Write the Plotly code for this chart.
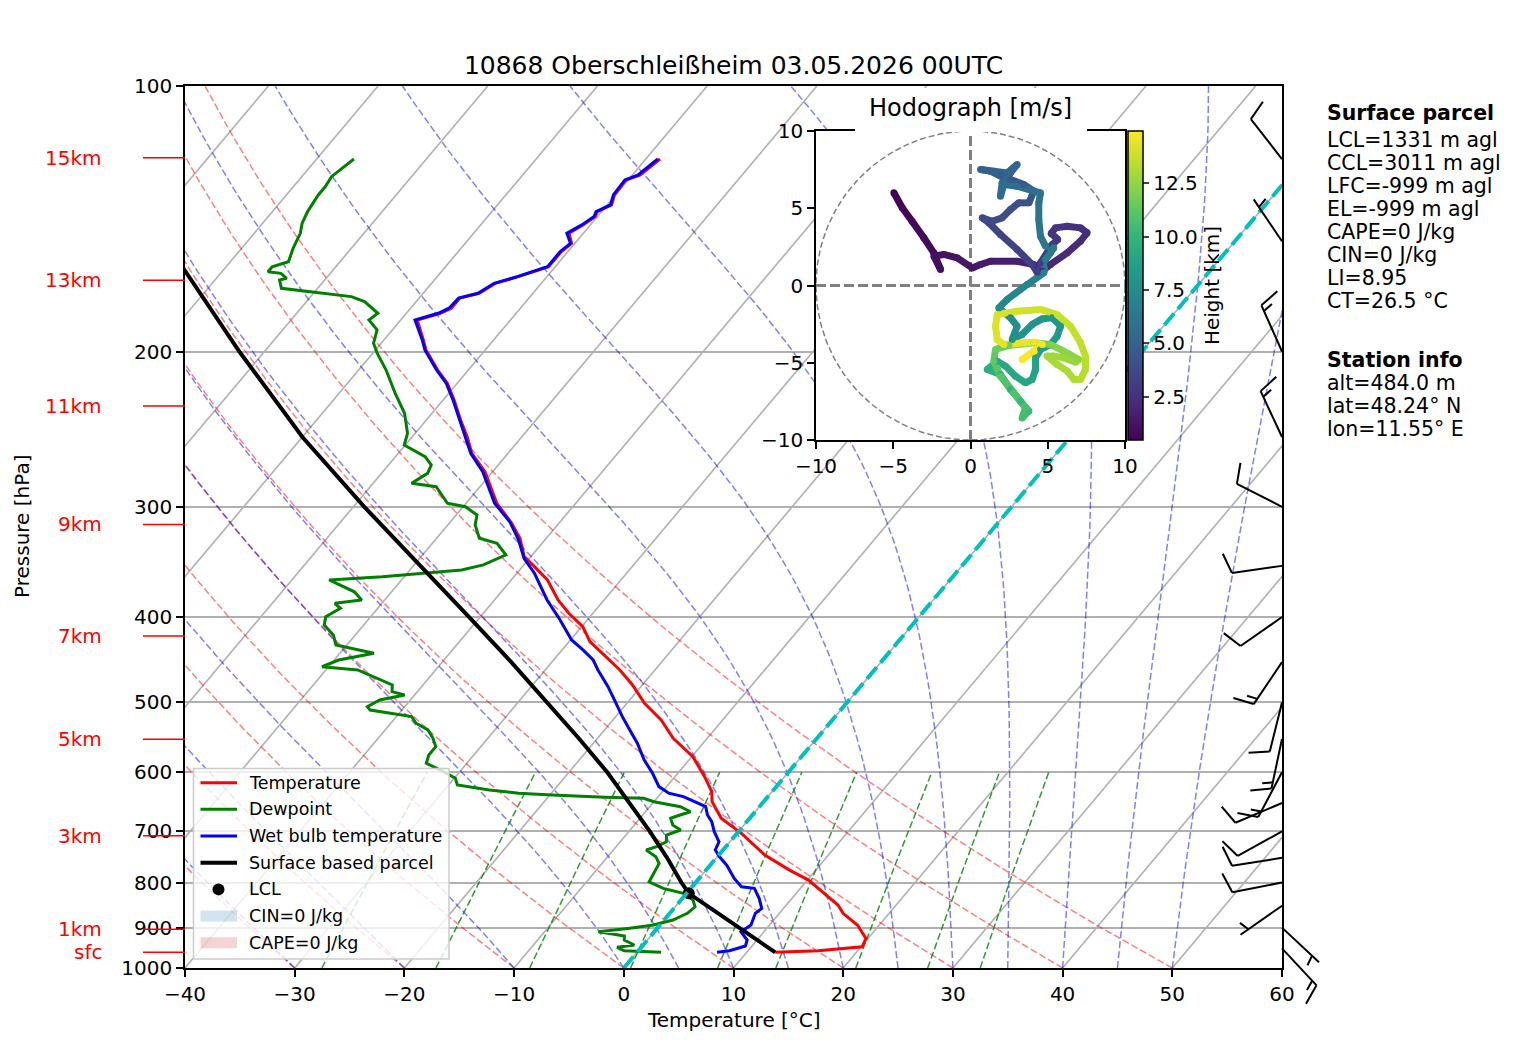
import numpy as np
import plotly.graph_objects as go
from plotly.colors import sample_colorscale

# ---- sounding readings: pressure [hPa] / temperature [degC] ----
temp_p = [959.9, 955.8, 946.0, 925.5, 893.9, 867.0, 848.5, 830.3, 808.9, 794.9,
          774.4, 744.6, 703.6, 676.5, 647.8, 631.0, 606.8, 576.0, 549.0, 523.4,
          501.0, 477.6, 459.3, 447.5, 441.7, 426.6, 410.2, 396.1, 382.6, 363.1,
          349.1, 341.7, 325.7, 313.2, 297.2, 282.1, 273.7, 260.9, 249.8, 240.2,
          227.0, 217.3, 209.9, 199.2, 194.1, 184.2, 181.0, 178.6, 174.0, 171.8,
          167.4, 164.5, 160.3, 154.1, 150.8, 146.9, 143.8, 140.6, 138.8, 136.4,
          132.9, 127.8, 126.2, 121.0]
temp_t = [12.6, 16.4, 20.1, 19.8, 18.0, 15.8, 14.7, 13.2, 11.3, 10.1,
          7.6, 4.2, 0.4, -2.6, -4.7, -5.5, -7.3, -9.9, -13.1, -15.6,
          -18.4, -20.9, -23.2, -24.9, -25.8, -28.1, -29.9, -32.2, -34.2, -36.7,
          -39.2, -40.6, -42.4, -44.3, -47.2, -49.4, -50.7, -53.3, -55.0, -56.7,
          -59.0, -60.9, -62.8, -65.4, -66.4, -68.5, -66.9, -66.3, -66.3, -64.9,
          -64.2, -62.6, -60.6, -60.6, -60.3, -61.3, -60.7, -60.2, -60.4, -59.6,
          -60.1, -60.2, -59.3, -58.7]

wb_p = [959.9, 955.8, 944.2, 929.5, 909.7, 893.9, 867.0, 855.8, 833.8, 812.3,
        808.9, 791.4, 764.5, 748.1, 734.9, 719.2, 700.6, 682.5, 670.7, 656.3,
        639.3, 633.6, 622.8, 601.5, 580.8, 556.0, 537.1, 518.8, 496.7, 479.8,
        459.3, 447.5, 435.9, 424.7, 401.4, 382.6, 356.8, 343.1, 327.1, 311.9,
        297.2, 282.1, 273.7, 260.9, 249.8, 240.2, 227.0, 217.3, 209.9, 199.2,
        194.1, 184.2, 181.0, 178.6, 174.0, 171.8, 167.4, 164.5, 160.3, 154.1,
        150.8, 146.9, 143.8, 140.6, 138.8, 136.4, 132.9, 127.8, 126.2, 121.0]
wb_t = [7.3, 8.3, 9.4, 9.1, 7.9, 8.3, 7.8, 8.0, 7.0, 5.8,
        4.5, 3.2, 1.5, 0.2, -0.7, -1.0, -2.2, -3.2, -4.1, -4.9,
        -7.7, -9.3, -10.7, -12.3, -14.1, -16.0, -17.7, -19.4, -21.4, -23.0,
        -25.2, -26.4, -28.1, -29.9, -32.7, -35.2, -38.4, -40.5, -42.4, -44.6,
        -47.4, -49.6, -50.9, -53.4, -55.2, -56.8, -59.1, -61.0, -62.9, -65.5,
        -66.5, -68.7, -67.1, -66.5, -66.4, -65.0, -64.3, -62.7, -60.7, -60.7,
        -60.4, -61.5, -60.8, -60.3, -60.5, -59.7, -60.2, -60.3, -59.5, -58.9]

dew_p = [959.9, 955.8, 947.4, 941.8, 929.5, 919.9, 913.4, 909.7, 901.3, 893.9,
         882.3, 867.0, 852.3, 837.5, 822.9, 812.3, 798.4, 781.1, 761.0, 748.1,
         734.9, 728.6, 719.2, 706.6, 697.5, 688.4, 676.5, 670.7, 665.0, 656.3,
         647.8, 642.1, 640.4, 636.6, 633.6, 628.3, 620.1, 609.3, 598.9, 585.9,
         573.5, 561.2, 549.0, 537.1, 527.8, 518.8, 509.9, 505.5, 496.7, 490.3,
         486.1, 477.6, 459.3, 455.4, 447.5, 439.7, 430.3, 419.2, 408.4, 399.6,
         391.0, 385.9, 382.6, 374.5, 369.5, 363.1, 360.0, 353.7, 349.1, 340.2,
         330.0, 325.7, 314.6, 306.5, 299.9, 297.2, 284.6, 282.1, 274.9, 269.0,
         263.2, 255.3, 247.6, 235.0, 223.0, 209.9, 200.9, 195.7, 189.0, 184.2,
         181.0, 175.6, 173.3, 171.1, 169.6, 166.0, 165.2, 163.1, 162.4, 160.3,
         158.2, 152.8, 146.9, 143.1, 138.8, 132.9, 130.0, 126.7, 124.5, 121.0]
dew_t = [2.2, -1.3, -2.2, -0.8, -2.1, -2.4, -4.1, -5.1, -2.5, -0.6,
         0.8, 1.6, 1.8, 1.1, -0.3, -2.5, -4.3, -4.5, -4.8, -5.6,
         -7.0, -6.3, -5.8, -6.3, -5.4, -6.5, -7.2, -6.6, -5.9, -7.2,
         -10.0, -11.2, -14.8, -19.8, -23.0, -25.9, -29.2, -29.9, -31.5, -33.7,
         -34.1, -34.1, -35.0, -36.1, -37.7, -38.6, -42.9, -43.4, -42.8, -40.9,
         -42.3, -42.8, -47.1, -50.6, -49.6, -46.9, -51.0, -52.0, -53.6, -54.1,
         -53.4, -54.3, -52.1, -53.4, -54.8, -56.6, -52.0, -45.3, -43.7, -42.4,
         -44.1, -46.1, -47.5, -48.1, -49.8, -51.7, -54.0, -56.5, -55.8, -56.1,
         -57.3, -60.1, -60.7, -62.5, -64.9, -67.5, -69.6, -70.7, -71.4, -72.9,
         -72.6, -74.7, -76.3, -80.6, -83.3, -84.1, -83.6, -84.5, -85.8, -85.8,
         -84.7, -85.3, -85.8, -86.4, -86.8, -87.1, -87.1, -87.3, -87.0, -86.6]

parcel_p = [959.9, 900, 850, 822.9, 800, 750, 700, 650, 600, 550, 500, 450,
            400, 350, 300, 250, 200, 150]
parcel_t = [12.6, 7.35, 2.8, 0.2, -1.3, -4.5, -8.1, -12.1, -16.5, -21.6, -27.3, -33.7,
            -41.0, -49.4, -59.0, -70.0, -82.3, -97.5]
lcl_p, lcl_t = 822.9, 0.2

# wind barbs at the right edge
barb_p = [121, 150, 200, 250, 300, 350, 400, 450, 500, 550, 600, 650, 700, 750, 800, 850, 900, 950]
barb_dir = [322, 326, 336, 335, 297, 262, 235, 214, 194, 192, 208, 247, 241, 261, 259, 235, 133, 137]
barb_kt = [10, 5, 15, 15, 10, 10, 10, 15, 10, 15, 15, 10, 10, 10, 10, 5, 5, 15]

# hodograph (m/s) and height (km)
hodo_u = [-4.96, -4.42, -3.78, -3.02, -2.37, -1.94, -2.37, -1.73, -0.86, 0.11, 0.65, 1.29, 3.02, 4.10, 4.64,
          5.18, 6.26, 7.12, 7.55, 7.12, 6.26, 5.50, 5.22, 5.65, 5.29, 4.53, 4.32,
          3.99, 3.02, 1.94, 1.19, 0.76, 1.40, 2.05, 2.59, 3.13, 3.78,
          4.10, 3.45, 2.59, 1.94, 1.29, 0.65, 1.51, 2.37, 3.02, 2.59, 2.05, 1.94, 2.16, 3.02, 4.10, 4.53,
          4.42, 4.42, 4.53, 4.85, 5.39, 5.18, 4.85, 4.75, 3.67, 2.37,
          1.83, 2.59, 3.02, 2.70, 3.34, 3.99, 4.64, 5.29, 5.83, 5.61, 5.18, 4.53, 4.21, 4.21, 3.99,
          3.56, 2.91, 2.27, 1.73, 1.08, 1.94, 2.59, 3.24, 3.78, 3.34, 3.56, 2.80, 1.94, 1.51, 1.62,
          2.48, 4.10, 5.18, 6.04, 7.01, 6.80, 6.04, 5.39, 4.96, 5.61, 6.26, 6.69, 7.12, 7.44,
          7.44, 7.12, 6.47, 5.61, 4.53, 3.02, 1.73, 1.62, 1.73, 2.16, 4.10, 4.64, 4.10, 3.34]
hodo_v = [6.00, 5.03, 4.16, 3.09, 2.11, 1.04, 1.90, 2.01, 1.79, 1.14, 1.36, 1.57, 1.57, 1.36, 0.93,
          1.36, 2.11, 2.87, 3.41, 3.73, 3.84, 3.73, 3.37, 2.98, 2.65, 1.47, 0.86,
          1.36, 2.33, 3.30, 4.06, 4.38, 4.16, 4.38, 4.92, 5.35, 5.35,
          6.11, 6.54, 6.86, 7.08, 7.40, 7.51, 7.40, 7.29, 7.83, 7.29, 6.65, 5.78, 6.54, 6.43, 6.11, 6.00,
          5.35, 4.27, 3.19, 2.55, 2.44, 2.11, 1.68, 0.82, 0.06, -0.91,
          -1.45, -2.09, -2.63, -3.50, -3.17, -2.52, -2.16, -2.09, -2.63, -3.28, -3.82, -4.14, -4.68, -5.44, -6.08,
          -6.30, -5.87, -5.22, -4.90, -5.44, -5.76, -6.73, -7.49, -8.13, -8.57, -7.92, -6.93, -5.87, -4.90, -4.14,
          -3.88, -3.71, -3.82, -4.25, -4.79, -4.96, -4.68, -4.57, -4.57, -5.11, -5.54, -6.08, -6.08, -5.44,
          -4.57, -3.71, -2.63, -1.88, -1.55, -1.66, -1.88, -2.63, -3.50, -3.82, -3.67, -3.82, -4.25, -4.79]
hodo_h = [0.48, 0.6, 0.7, 0.8, 0.9, 1.0, 1.1, 1.2, 1.3, 1.4, 1.5, 1.6, 1.8, 1.9, 2.0,
          2.1, 2.2, 2.3, 2.4, 2.5, 2.6, 2.7, 2.8, 2.9, 3.0, 3.1, 3.2,
          3.3, 3.4, 3.5, 3.6, 3.7, 3.8, 3.9, 4.0, 4.1, 4.2,
          4.4, 4.5, 4.6, 4.7, 4.8, 4.9, 5.0, 5.1, 5.2, 5.3, 5.4, 5.5, 5.6, 5.7, 5.8, 5.9,
          6.0, 6.1, 6.2, 6.3, 6.4, 6.5, 6.6, 6.8, 7.0, 7.2,
          7.4, 7.6, 7.7, 7.8, 7.9, 8.0, 8.1, 8.2, 8.3, 8.4, 8.5, 8.6, 8.7, 8.8, 8.9,
          9.0, 9.1, 9.2, 9.3, 9.5, 9.7, 9.9, 10.1, 10.3, 10.5, 10.7, 10.9, 11.1, 11.3, 11.5,
          11.7, 11.9, 12.1, 12.3, 12.5, 12.6, 12.7, 12.8, 12.9, 13.0, 13.1, 13.2, 13.3, 13.4,
          13.5, 13.6, 13.7, 13.8, 13.9, 14.0, 14.1, 14.2, 14.3, 14.4, 14.6, 14.7, 14.85, 14.95]

km_labels = ["15km", "13km", "11km", "9km", "7km", "5km", "3km", "1km", "sfc"]
km_p = [120.6, 166.0, 230.6, 314.1, 420.3, 550.3, 707.9, 904.0, 959.9]

p_ticks = [100, 200, 300, 400, 500, 600, 700, 800, 900, 1000]
t_ticks = [-40, -30, -20, -10, 0, 10, 20, 30, 40, 50, 60]

parcel_lines = ["LCL=1331 m agl", "CCL=3011 m agl", "LFC=-999 m agl", "EL=-999 m agl",
                "CAPE=0 J/kg", "CIN=0 J/kg", "LI=8.95", "CT=26.5 °C"]
station_lines = ["alt=484.0 m", "lat=48.24° N", "lon=11.55° E"]

# ---- geometry ----
W, H = 1517, 1054
ML, MR, MT, MB = 185, 235, 86, 86
PW, PH = W - ML - MR, H - MT - MB
SKEW = 67.6          # degC of x shift per decade of pressure
FONT = "DejaVu Sans"


def skx(t, p):
    return np.asarray(t, float) + SKEW * (3.0 - np.log10(np.asarray(p, float)))


def px(x, y):
    # page pixel -> paper coords of the main plot area
    return (x - ML) / PW, (H - MB - y) / PH


def ypap(p):
    return 3.0 - np.log10(p)


fig = go.Figure()


def add_line(x, y, **line):
    fig.add_trace(go.Scatter(x=x, y=y, mode="lines", line=line,
                             hoverinfo="skip", showlegend=False))


def joined(curves):
    xs, ys = [], []
    for x, y in curves:
        xs += list(x) + [None]
        ys += list(y) + [None]
    return xs, ys


# isotherms (skewed grid)
iso = [(skx([t, t], [1000, 100]), [1000, 100]) for t in range(-110, 61, 10)]
add_line(*joined(iso), color="#b0b0b0", width=1.6)

# dry adiabats
Rd, Cp, Lv, eps = 287.04749, 1004.6662, 2.50084e6, 0.6219569
pp = np.geomspace(1000, 100, 90)
dry = []
for t0 in range(-40, 51, 10):
    t = (t0 + 273.15) * (pp / 1000.0) ** (Rd / Cp) - 273.15
    dry.append((skx(t, pp), pp))
add_line(*joined(dry), color="rgba(255,0,0,0.5)", width=1.5, dash="7px,3px")


# moist adiabats
def es(tc):
    return 6.112 * np.exp(17.67 * tc / (tc + 243.5))


def dtdp(p, T):
    e = es(T - 273.15)
    rs = eps * e / (p - e)
    return (Rd * T + Lv * rs) / (Cp + Lv * Lv * rs * eps / (Rd * T * T)) / p


moist = []
for t0 in list(range(-40, 0, 10)) + list(range(0, 51, 5)):
    T = t0 + 273.15
    out = [T]
    for i in range(len(pp) - 1):
        h = pp[i + 1] - pp[i]
        k1 = dtdp(pp[i], T)
        k2 = dtdp(pp[i] + h / 2, T + h / 2 * k1)
        k3 = dtdp(pp[i] + h / 2, T + h / 2 * k2)
        k4 = dtdp(pp[i + 1], T + h * k3)
        T = T + h / 6 * (k1 + 2 * k2 + 2 * k3 + k4)
        out.append(T)
    moist.append((skx(np.array(out) - 273.15, pp), pp))
add_line(*joined(moist), color="rgba(0,0,255,0.5)", width=1.5, dash="7px,3px")

# mixing ratio lines
pm = np.linspace(1000, 600, 20)
mix = []
for w in [0.0004, 0.001, 0.002, 0.004, 0.007, 0.01, 0.016, 0.024, 0.032]:
    lg = np.log(pm * w / (eps + w) / 6.112)
    td = 243.5 * lg / (17.67 - lg)
    mix.append((skx(td, pm), pm))
add_line(*joined(mix), color="rgba(0,128,0,0.8)", width=1.5, dash="7px,3px")

# profiles
add_line(skx(temp_t, temp_p), temp_p, color="red", width=3)
add_line(skx(dew_t, dew_p), dew_p, color="#008000", width=3)
add_line(skx(wb_t, wb_p), wb_p, color="blue", width=3)
add_line(skx(parcel_t, parcel_p), parcel_p, color="black", width=4)
fig.add_trace(go.Scatter(x=skx([lcl_t], [lcl_p]), y=[lcl_p], mode="markers",
                         marker=dict(color="black", size=12), hoverinfo="skip", showlegend=False))
add_line(skx([0, 0], [1000, 100]), [1000, 100], color="#00bfbf", width=4, dash="15px,6px")

# ---- hodograph inset ----
hx0, hy0 = px(816, 440)
hx1, hy1 = px(1125, 131)


def add_h(x, y, **line):
    fig.add_trace(go.Scatter(x=x, y=y, mode="lines", line=line, xaxis="x2", yaxis="y2",
                             hoverinfo="skip", showlegend=False))


ang = np.linspace(0, 2 * np.pi, 200)
add_h(10 * np.cos(ang), 10 * np.sin(ang), color="gray", width=1.5, dash="6px,3px")
add_h([-10, 10], [0, 0], color="gray", width=3, dash="10px,4px")
add_h([0, 0], [-10, 10], color="gray", width=3, dash="10px,4px")

hmin, hmax = min(hodo_h), max(hodo_h)
mid = [((hodo_h[i] + hodo_h[i + 1]) / 2 - hmin) / (hmax - hmin) for i in range(len(hodo_h) - 1)]
seg_cols = sample_colorscale("Viridis", mid)
for i, c in enumerate(seg_cols):
    add_h(hodo_u[i:i + 2], hodo_v[i:i + 2], color=c, width=7)
fig.add_trace(go.Scatter(
    x=hodo_u, y=hodo_v, xaxis="x2", yaxis="y2", mode="markers", hoverinfo="skip", showlegend=False,
    marker=dict(size=7, color=hodo_h, colorscale="Viridis", cmin=hmin, cmax=hmax, showscale=True,
                colorbar=dict(x=px(1128, 0)[0], xanchor="left", xpad=0, ypad=0,
                              y=(hy0 + hy1) / 2, yanchor="middle", len=309, lenmode="pixels",
                              thickness=15, thicknessmode="pixels", outlinewidth=1.5, outlinecolor="black",
                              tickvals=[2.5, 5, 7.5, 10, 12.5], ticktext=["2.5", "5.0", "7.5", "10.0", "12.5"],
                              ticks="outside", ticklen=6, tickwidth=1.5, tickfont=dict(size=20),
                              title=dict(text="Height [km]", side="right", font=dict(size=20))))))

shapes = []
annotations = []

shapes.append(dict(type="rect", xref="x2", yref="y2", x0=-10, x1=10, y0=-10, y1=10,
                   fillcolor="white", line=dict(width=0), layer="below"))
# hodograph title box
bx0, by0 = px(855, 132)
bx1, by1 = px(1087, 88)
shapes.append(dict(type="rect", xref="paper", yref="paper", x0=bx0, x1=bx1, y0=by0, y1=by1,
                   fillcolor="white", line=dict(width=0), layer="above"))
annotations.append(dict(text="Hodograph [m/s]", xref="paper", yref="paper", x=px(970.5, 108)[0],
                        y=px(970.5, 108)[1], showarrow=False, font=dict(size=24),
                        xanchor="center", yanchor="middle"))

# ---- wind barbs ----
L = 50.6
for p, d, kt in zip(barb_p, barb_dir, barb_kt):
    r = np.radians(d)
    sx, sy = np.sin(r), np.cos(r)
    nx, ny = np.cos(r), -np.sin(r)
    x0, y0 = 1.0, ypap(p)

    def pt(a, b):
        return x0 + (a * sx + b * nx) / PW, y0 + (a * sy + b * ny) / PH

    segs = [(pt(0, 0), pt(L, 0))]
    off = L
    first = True
    for _ in range(kt // 10):
        segs.append((pt(off, 0), pt(off + 0.125 * L, 0.4 * L)))
        off -= 0.125 * L
        first = False
    if kt % 10 >= 5:
        if first:
            off -= 1.5 * 0.125 * L
        segs.append((pt(off, 0), pt(off + 0.0625 * L, 0.2 * L)))
    for (a0, b0), (a1, b1) in segs:
        shapes.append(dict(type="line", xref="paper", yref="paper", x0=a0, y0=b0, x1=a1, y1=b1,
                           line=dict(color="black", width=2), layer="above"))

# ---- height labels on the left ----
for lab, p in zip(km_labels, km_p):
    shapes.append(dict(type="line", xref="paper", yref="paper", x0=px(143, 0)[0], x1=0,
                       y0=ypap(p), y1=ypap(p), line=dict(color="red", width=1.5)))
    annotations.append(dict(text=lab, xref="paper", yref="paper", x=px(104, 0)[0], y=ypap(p),
                            xanchor="right", yanchor="middle", showarrow=False,
                            font=dict(size=20, color="red")))

# ---- axis titles ----
annotations.append(dict(text="Pressure [hPa]", xref="paper", yref="paper", x=px(22, 0)[0], y=0.5,
                        textangle=-90, showarrow=False, font=dict(size=20),
                        xanchor="center", yanchor="middle"))
annotations.append(dict(text="Temperature [°C]", xref="paper", yref="paper", x=0.5, y=px(0, 1020)[1],
                        showarrow=False, font=dict(size=20), xanchor="center", yanchor="middle"))

# ---- text block on the right ----
tx = px(1325, 0)[0]
annotations.append(dict(text="<b>Surface parcel</b>", xref="paper", yref="paper", x=tx, y=px(0, 113)[1],
                        xanchor="left", yanchor="middle", showarrow=False, font=dict(size=20.5)))
for i, s in enumerate(parcel_lines):
    annotations.append(dict(text=s, xref="paper", yref="paper", x=tx, y=px(0, 140 + 23.0 * i)[1],
                            xanchor="left", yanchor="middle", showarrow=False, font=dict(size=20.5)))
annotations.append(dict(text="<b>Station info</b>", xref="paper", yref="paper", x=tx, y=px(0, 360)[1],
                        xanchor="left", yanchor="middle", showarrow=False, font=dict(size=20.5)))
for i, s in enumerate(station_lines):
    annotations.append(dict(text=s, xref="paper", yref="paper", x=tx, y=px(0, 383 + 23.0 * i)[1],
                            xanchor="left", yanchor="middle", showarrow=False, font=dict(size=20.5)))

# ---- legend (drawn by hand) ----
lx0, ly0 = px(193.5, 959)
lx1, ly1 = px(449, 768.5)
shapes.append(dict(type="rect", xref="paper", yref="paper", x0=lx0, x1=lx1, y0=ly0, y1=ly1,
                   fillcolor="rgba(255,255,255,0.8)", line=dict(color="#cccccc", width=1.5), layer="above"))
leg_items = [("Temperature", "line", "red", 3), ("Dewpoint", "line", "#008000", 3),
             ("Wet bulb temperature", "line", "blue", 3), ("Surface based parcel", "line", "black", 4),
             ("LCL", "dot", "black", 0), ("CIN=0 J/kg", "patch", "rgba(31,119,180,0.2)", 0),
             ("CAPE=0 J/kg", "patch", "rgba(214,39,40,0.2)", 0)]
for i, (lab, kind, col, wdt) in enumerate(leg_items):
    yc = 782.7 + 26.67 * i
    a0, yy = px(200.5, yc)
    a1, _ = px(237, yc)
    if kind == "line":
        shapes.append(dict(type="line", xref="paper", yref="paper", x0=a0, x1=a1, y0=yy, y1=yy,
                           line=dict(color=col, width=wdt), layer="above"))
    elif kind == "dot":
        c0, d0 = px(212.5, yc + 6)
        c1, d1 = px(224.5, yc - 6)
        shapes.append(dict(type="circle", xref="paper", yref="paper", x0=c0, x1=c1, y0=d0, y1=d1,
                           fillcolor="black", line=dict(width=0), layer="above"))
    else:
        _, d0 = px(0, yc + 5.5)
        _, d1 = px(0, yc - 5.5)
        shapes.append(dict(type="rect", xref="paper", yref="paper", x0=a0, x1=a1, y0=d0, y1=d1,
                           fillcolor=col, line=dict(width=0), layer="above"))
    annotations.append(dict(text=lab, xref="paper", yref="paper", x=px(247, 0)[0], y=yy,
                            xanchor="left", yanchor="middle", showarrow=False, font=dict(size=17.5)))

axis_common = dict(ticks="outside", ticklen=7, tickwidth=1.6, tickcolor="black", showline=True,
                   mirror=True, linecolor="black", linewidth=1.6, zeroline=False, tickfont=dict(size=20))

fig.update_layout(
    width=W, height=H, margin=dict(l=ML, r=MR, t=MT, b=MB),
    paper_bgcolor="white", plot_bgcolor="white",
    font=dict(family=FONT, size=20, color="black"),
    showlegend=False,
    title=dict(text="10868 Oberschleißheim 03.05.2026 00UTC", x=0.5, xref="paper", xanchor="center",
               y=1 - 65 / H, yref="container", yanchor="middle", font=dict(size=25)),
    xaxis=dict(range=[-40, 60], tickvals=t_ticks, showgrid=False, **axis_common),
    yaxis=dict(type="log", range=[3, 2], tickvals=p_ticks, ticktext=[str(v) for v in p_ticks],
               showgrid=True, gridcolor="#b0b0b0", gridwidth=1.6, **axis_common),
    xaxis2=dict(domain=[hx0, hx1], anchor="y2", range=[-10, 10], tickvals=[-10, -5, 0, 5, 10],
                showgrid=False, **axis_common),
    yaxis2=dict(domain=[hy0, hy1], anchor="x2", range=[-10, 10], tickvals=[-10, -5, 0, 5, 10],
                showgrid=False, **axis_common),
    shapes=shapes, annotations=annotations,
)

fig.write_html("out.html", config={"displayModeBar": False},
               post_script="document.body.style.margin='0';")
